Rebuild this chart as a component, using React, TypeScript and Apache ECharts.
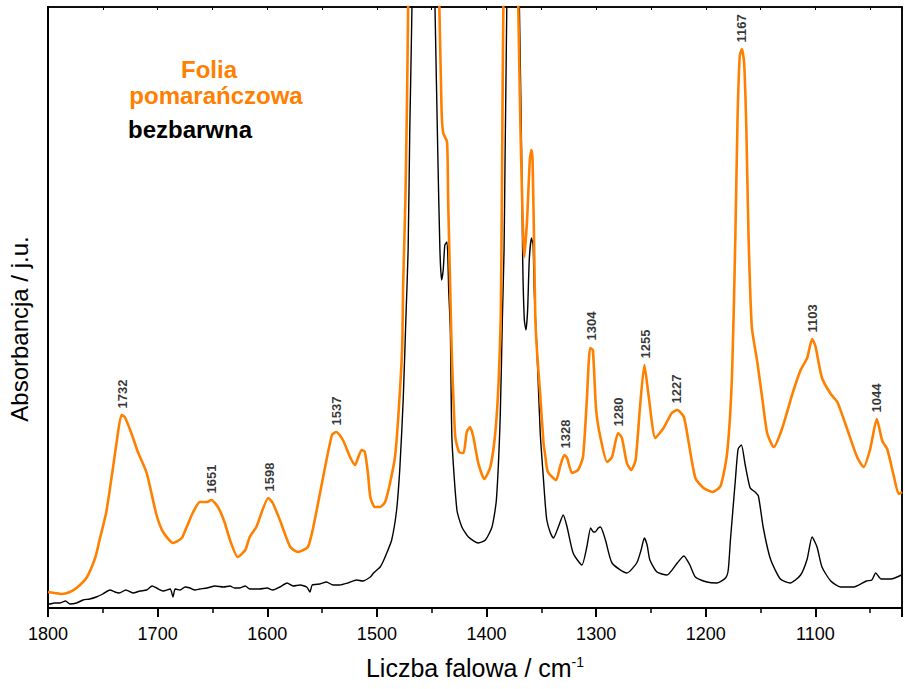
import { useEffect, useRef } from "react";
import * as echarts from "echarts";

const FONT = "'Liberation Sans', Arial, sans-serif";

// Orange film spectrum: [wavenumber cm-1, absorbance (arb. units)]
const orangeSpectrum: [number, number][] = [
  [1800, 16], [1794, 15], [1787.5, 14], [1780, 16], [1774, 20], [1765, 30], [1757, 50], [1753, 68],
  [1747, 95], [1741, 138], [1737.5, 165], [1733, 193], [1730, 191], [1724, 175], [1718, 156], [1710, 135],
  [1701, 93], [1695, 76], [1686, 65], [1678, 70], [1673.5, 81], [1668, 95], [1661.5, 106], [1655, 106],
  [1651, 108], [1645, 101], [1639, 86], [1634, 68], [1627, 51], [1620, 58], [1616, 71], [1610, 81],
  [1599, 110], [1595, 105], [1588.5, 88], [1579, 61], [1572, 56], [1563, 61], [1558, 81], [1549, 131],
  [1541, 173], [1537, 176], [1531, 168], [1524.5, 151], [1520, 143], [1514, 158], [1511, 156], [1508, 133],
  [1506, 111], [1502, 101], [1497, 101], [1492.5, 106], [1488, 125], [1483.5, 151], [1480.5, 191], [1477, 258],
  [1476, 325], [1474, 408], [1472.5, 508], [1471.5, 601], [1470.5, 708], [1465, 1000], [1451.5, 1000], [1445, 658],
  [1443, 600], [1441, 498], [1439.5, 475], [1436, 466], [1435, 408], [1432.5, 291], [1431.5, 248], [1428.5, 171],
  [1425, 156], [1421, 155], [1418, 176], [1415, 181], [1412, 171], [1407.5, 145], [1402, 129], [1396.5, 141],
  [1392, 175], [1389, 225], [1387, 291], [1386, 408], [1385, 558], [1384, 658], [1378.5, 1000], [1372, 658],
  [1371, 601], [1369, 478], [1365.5, 351], [1363, 388], [1360.5, 448], [1359, 458], [1358, 448], [1356.5, 358],
  [1355.5, 291], [1354, 258], [1351, 213], [1348, 165], [1346.5, 153], [1344, 136], [1336.5, 128], [1333, 141],
  [1329, 153], [1326.5, 150], [1322, 135], [1316.5, 138], [1312, 151], [1308.5, 208], [1305.5, 260], [1303, 258],
  [1300, 198], [1296, 170], [1290, 146], [1285.5, 151], [1280, 175], [1276.5, 170], [1272, 145], [1268, 138],
  [1264, 148], [1260, 201], [1256, 243], [1252, 211], [1246, 170], [1238.5, 180], [1231, 195], [1226, 198],
  [1220, 191], [1215.5, 165], [1209.5, 130], [1202, 120], [1194, 116], [1186.5, 122], [1180.5, 155], [1176, 234],
  [1173, 372], [1171, 490], [1169, 552], [1167, 559], [1165, 545], [1163, 480], [1161, 372], [1158, 281],
  [1153, 246], [1148.5, 210], [1144, 175], [1138, 161], [1130.5, 179], [1121, 214], [1113.5, 238], [1107.5, 250],
  [1103, 269], [1100, 262], [1094, 230], [1086, 214], [1080, 206], [1071, 179], [1062, 151], [1056, 141],
  [1050, 159], [1044, 189], [1039, 167], [1034.5, 159], [1028.5, 132], [1024, 114], [1021, 116],
];

// Colourless film spectrum
const colorlessSpectrum: [number, number][] = [
  [1800, 4], [1798.5, 4], [1794, 5], [1789, 5], [1784, 7], [1780, 4], [1774, 5], [1768, 8],
  [1762, 9], [1756, 11], [1750, 14], [1743.5, 18], [1739, 16], [1735, 15], [1729, 18], [1722.5, 15],
  [1716, 17], [1710, 18], [1705, 22], [1701, 20], [1695, 17], [1688.5, 19], [1686, 11], [1684, 19],
  [1679.5, 18], [1675, 21], [1670.5, 20], [1666, 18], [1661.5, 19], [1655, 20], [1647.5, 22], [1640, 21],
  [1634, 22], [1630, 20], [1625, 20], [1620, 22], [1616, 19], [1607, 19], [1600, 20], [1595, 18],
  [1588.5, 21], [1582, 25], [1576.5, 22], [1570, 23], [1564, 21], [1561, 16], [1559, 23], [1552, 24],
  [1546, 26], [1540, 23], [1534, 23], [1526.5, 25], [1518.5, 28], [1513, 27], [1506, 31], [1503, 35],
  [1500, 38], [1497, 41], [1494.5, 46], [1491, 55], [1486.5, 68], [1482, 98], [1479, 141], [1476, 208],
  [1473.5, 291], [1471.5, 358], [1470, 478], [1468, 601], [1466.5, 808], [1456.5, 1100], [1449, 708], [1447, 601],
  [1444.5, 458], [1442.5, 358], [1441, 328], [1439.5, 338], [1438, 363], [1436, 366], [1434.5, 318], [1433, 278],
  [1431.5, 168], [1427, 98], [1422.5, 81], [1416.5, 71], [1407.5, 65], [1401, 68], [1395, 81], [1391, 108],
  [1387.5, 191], [1385.5, 291], [1384, 358], [1383, 458], [1381.5, 601], [1380, 808], [1375.5, 1108], [1371, 658],
  [1370, 601], [1368, 458], [1367, 348], [1365.5, 288], [1364, 278], [1362.5, 298], [1361, 348], [1359, 370],
  [1357.5, 363], [1356.5, 318], [1354, 258], [1351, 175], [1348, 128], [1346.5, 105], [1345, 88], [1342, 76],
  [1339, 70], [1334.5, 81], [1330, 93], [1326.5, 81], [1321, 55], [1313, 43], [1308.5, 61], [1305, 80],
  [1302.5, 76], [1301, 76], [1298, 80], [1296, 81], [1291.5, 68], [1285.5, 45], [1272, 35], [1263, 45],
  [1259, 58], [1256, 70], [1253.5, 63], [1251, 48], [1244.5, 36], [1235.5, 33], [1226, 45], [1220, 52],
  [1214.5, 43], [1209.5, 31], [1199, 26], [1190, 25], [1182, 30], [1179.5, 38], [1177.5, 68], [1173, 128],
  [1170.5, 159], [1167.5, 163], [1164, 143], [1159.5, 120], [1155, 116], [1152, 112], [1147.5, 80], [1141, 49],
  [1132, 29], [1123, 25], [1113.5, 33], [1107.5, 49], [1103, 71], [1098.5, 61], [1094, 41], [1086, 27],
  [1077, 21], [1065, 21], [1053.5, 27], [1048.5, 28], [1045, 35], [1040, 29], [1031, 29], [1021.5, 33],
];

// Labelled band positions and their absorbance on the orange spectrum
const peakWavenumbers = [1732, 1651, 1598, 1537, 1328, 1304, 1280, 1255, 1227, 1167, 1103, 1044];
const peakAbsorbances = [193, 108, 110, 176, 153, 261, 175, 243, 198, 559, 269, 189];

const legendTitle = ["Folia", "pomarańczowa"];
const legendSecond = "bezbarwna";
const xAxisTitle = "Liczba falowa / cm";
const xAxisTitleSup = "-1";
const yAxisTitle = "Absorbancja / j.u.";

const ORANGE = "#FF8000";

export default function App() {
  const ref = useRef<HTMLDivElement>(null);

  useEffect(() => {
    const chart = echarts.init(ref.current!, null, { renderer: "svg" });
    const xBase = {
      type: "value",
      inverse: true,
      min: 1021,
      max: 1800,
      splitNumber: 8,
      splitLine: { show: false },
      minorSplitLine: { show: false },
    };
    chart.setOption({
      animation: false,
      backgroundColor: "#ffffff",
      textStyle: { fontFamily: FONT },
      grid: {
        left: 48,
        right: 3,
        top: 7,
        bottom: 81,
        show: true,
        borderColor: "#000",
        borderWidth: 1.5,
        containLabel: false,
      },
      xAxis: [
        {
          ...xBase,
          position: "bottom",
          axisLine: { show: true, onZero: false, lineStyle: { color: "#000", width: 2 } },
          axisTick: { show: true, inside: false, length: 9, lineStyle: { color: "#000", width: 2 } },
          minorTick: { show: true, splitNumber: 2, length: 5, lineStyle: { color: "#000", width: 1.5 } },
          axisLabel: {
            show: true,
            fontSize: 18,
            color: "#000",
            margin: 17,
            fontFamily: FONT,
            showMinLabel: false,
            formatter: (v: number) => String(v),
          },
          name: `{a|${xAxisTitle}}{b|${xAxisTitleSup}}`,
          nameLocation: "middle",
          nameGap: 47,
          nameTextStyle: {
            rich: {
              a: { fontSize: 25, color: "#000", fontFamily: FONT },
              b: { fontSize: 14, color: "#000", fontFamily: FONT, verticalAlign: "top" },
            },
          },
        },
        {
          ...xBase,
          position: "top",
          axisLine: { show: true, onZero: false, lineStyle: { color: "#000", width: 1.5 } },
          axisTick: { show: true, inside: true, length: 3, lineStyle: { color: "#000", width: 1 } },
          minorTick: { show: true, splitNumber: 2, length: 3, lineStyle: { color: "#000", width: 1 } },
          axisLabel: { show: false },
        },
      ],
      yAxis: [
        {
          type: "value",
          min: 0,
          max: 601,
          axisLine: { show: true, onZero: false, lineStyle: { color: "#000", width: 2 } },
          axisTick: { show: false },
          axisLabel: { show: false },
          splitLine: { show: false },
        },
        {
          type: "value",
          position: "right",
          min: 0,
          max: 601,
          axisLine: { show: true, onZero: false, lineStyle: { color: "#000", width: 1.5 } },
          axisTick: { show: false },
          axisLabel: { show: false },
          splitLine: { show: false },
        },
      ],
      graphic: [
        {
          type: "text",
          x: 209,
          y: 69,
          style: { text: legendTitle[0], fill: ORANGE, font: `bold 24px ${FONT}`, align: "center", verticalAlign: "middle" },
        },
        {
          type: "text",
          x: 216,
          y: 95,
          style: { text: legendTitle[1], fill: ORANGE, font: `bold 24px ${FONT}`, align: "center", verticalAlign: "middle" },
        },
        {
          type: "text",
          x: 128,
          y: 129,
          style: { text: legendSecond, fill: "#000", font: `bold 24px ${FONT}`, align: "left", verticalAlign: "middle" },
        },
        {
          type: "text",
          x: 19,
          y: 329,
          rotation: Math.PI / 2,
          style: { text: yAxisTitle, fill: "#000", font: `24px ${FONT}`, align: "center", verticalAlign: "middle" },
        },
      ],
      series: [
        {
          name: "bezbarwna",
          type: "line",
          xAxisIndex: 0,
          yAxisIndex: 0,
          data: colorlessSpectrum,
          showSymbol: false,
          symbol: "none",
          smooth: 0.2,
          clip: true,
          lineStyle: { color: "#000", width: 1.4 },
          z: 2,
        },
        {
          name: "Folia pomarańczowa",
          type: "line",
          xAxisIndex: 0,
          yAxisIndex: 0,
          data: orangeSpectrum,
          showSymbol: false,
          symbol: "none",
          smooth: 0.2,
          clip: true,
          lineStyle: { color: ORANGE, width: 2.6 },
          z: 3,
        },
        {
          name: "peaks",
          type: "scatter",
          xAxisIndex: 0,
          yAxisIndex: 0,
          symbolSize: 1,
          itemStyle: { color: "rgba(0,0,0,0)" },
          data: peakWavenumbers.map((w, i) => ({ value: [w, peakAbsorbances[i]], name: String(w) })),
          label: {
            show: true,
            position: "top",
            distance: 6,
            rotate: 90,
            align: "left",
            verticalAlign: "middle",
            formatter: (p: any) => p.name,
            fontSize: 13,
            fontWeight: "bold",
            color: "#000",
            fontFamily: FONT,
          },
          z: 4,
        },
      ],
    });
    return () => chart.dispose();
  }, []);

  return (
    <div
      ref={ref}
      style={{ position: "fixed", left: 0, top: 0, width: 905, height: 689, background: "#fff" }}
    />
  );
}
